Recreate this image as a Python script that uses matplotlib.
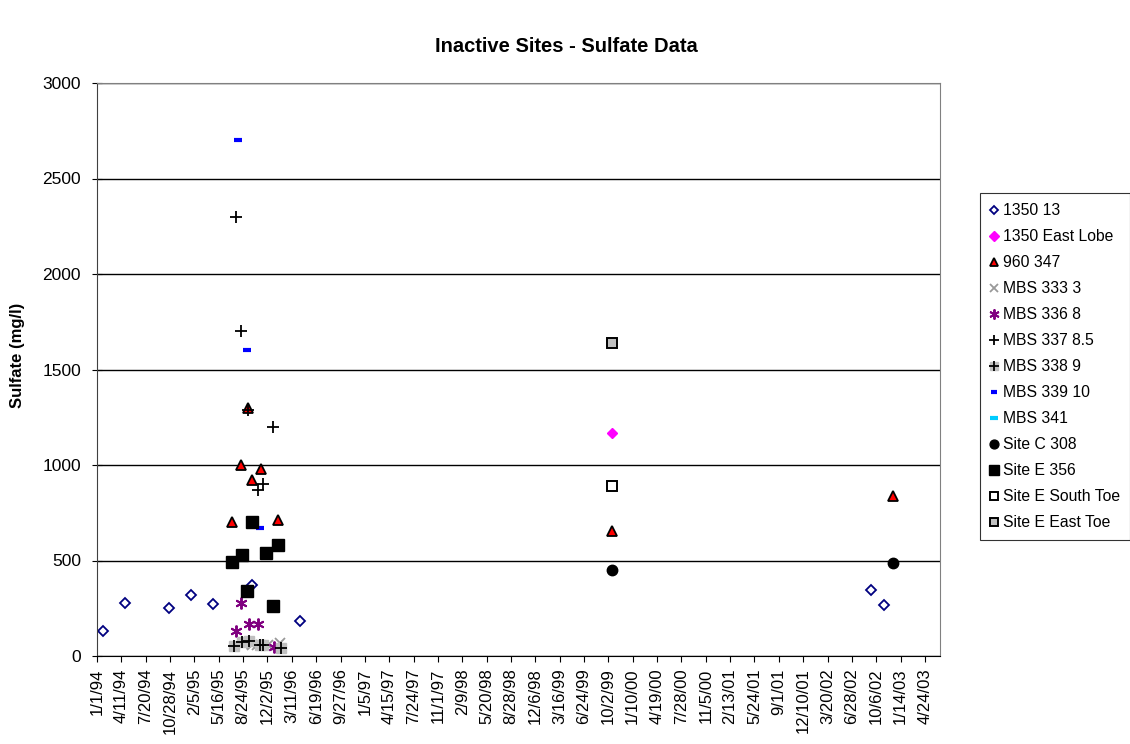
import datetime as dt
import numpy as np
import matplotlib
matplotlib.use('Agg')
import matplotlib.pyplot as plt
import matplotlib.dates as mdates
from matplotlib.ticker import FuncFormatter

plt.rcParams['font.family'] = ['Liberation Sans', 'DejaVu Sans']

# series data (date strings, sulfate mg/l)
s1350_13_dates = ['1994-01-24', '1994-04-25', '1994-10-22', '1995-01-23', '1995-04-24',
                  '1995-10-01', '1996-04-14', '2002-09-15', '2002-11-07']
s1350_13_vals = [130, 280, 250, 320, 270, 370, 185, 345, 265]

s1350_east_dates = ['1999-10-19']
s1350_east_vals = [1170]

s960_dates = ['1995-07-09', '1995-08-14', '1995-09-12', '1995-10-01', '1995-11-06',
              '1996-01-14', '1999-10-19', '2002-12-15']
s960_vals = [700, 1000, 1300, 920, 980, 710, 655, 840]

mbs333_dates = ['1995-08-22', '1995-09-28', '1995-10-20', '1995-12-05', '1996-01-24']
mbs333_vals = [65, 60, 55, 60, 70]

mbs336_dates = ['1995-07-26', '1995-08-14', '1995-09-17', '1995-10-23', '1995-12-27']
mbs336_vals = [130, 280, 170, 170, 45]

mbs337_dates = ['1995-07-26', '1995-08-14', '1995-09-14', '1995-10-23', '1995-11-15', '1995-12-25']
mbs337_vals = [2300, 1700, 1290, 870, 900, 1200]

mbs338_dates = ['1995-07-19', '1995-08-18', '1995-09-17', '1995-11-03', '1995-11-15', '1996-01-25']
mbs338_vals = [50, 75, 80, 58, 55, 43]

mbs339_dates = ['1995-08-04', '1995-09-08', '1995-11-03']
mbs339_vals = [2700, 1600, 670]

mbs341_dates = []
mbs341_vals = []

siteC_dates = ['1999-10-19', '2002-12-15']
siteC_vals = [450, 485]

siteE356_dates = ['1995-07-09', '1995-08-18', '1995-09-10', '1995-10-01', '1995-11-25',
                  '1995-12-25', '1996-01-14']
siteE356_vals = [490, 530, 340, 700, 540, 260, 580]

south_toe_dates = ['1999-10-19']
south_toe_vals = [890]

east_toe_dates = ['1999-10-19']
east_toe_vals = [1640]

start = dt.date(1994, 1, 1)
tick_dates = [start + dt.timedelta(days=100 * k) for k in range(35)]


def d(dates):
    return [mdates.date2num(dt.date.fromisoformat(s)) for s in dates]


fig = plt.figure(figsize=(11.3, 7.44), dpi=100)
ax = fig.add_axes([97 / 1130, 1 - 656 / 744, 843 / 1130, 573 / 744])

ax.plot(d(s1350_13_dates), s1350_13_vals, ls='none', marker='D', ms=5, mfc='white',
        mec='#000080', mew=1.3, label='1350 13')
ax.plot(d(s1350_east_dates), s1350_east_vals, ls='none', marker='D', ms=5.5, mfc='#FF00FF',
        mec='#FF00FF', label='1350 East Lobe')
ax.plot(d(s960_dates), s960_vals, ls='none', marker='^', ms=7.5, mfc='#FF0000',
        mec='black', mew=1.3, label='960 347')
ax.plot(d(mbs333_dates), mbs333_vals, ls='none', marker='x', ms=6.5, mec='#999999',
        mew=1.3, label='MBS 333 3')
ax.plot(d(mbs336_dates), mbs336_vals, ls='none', marker=(6, 2, 0), ms=8.5, mec='#800080',
        mew=1.4, label='MBS 336 8')
ax.plot(d(mbs337_dates), mbs337_vals, ls='none', marker='+', ms=8.5, mec='black',
        mew=1.3, label='MBS 337 8.5')
h338a, = ax.plot(d(mbs338_dates), mbs338_vals, ls='none', marker='s', ms=7.5, mfc='#C0C0C0',
                 mec='#C0C0C0')
h338b, = ax.plot(d(mbs338_dates), mbs338_vals, ls='none', marker='+', ms=8.5, mec='black',
                 mew=1.3)
ax.plot(d(mbs339_dates), mbs339_vals, ls='none', marker='_', ms=5.5, mec='#0000FF',
        mew=3, label='MBS 339 10')
ax.plot(d(mbs341_dates), mbs341_vals, ls='none', marker='_', ms=7, mec='#00CCFF',
        mew=3, label='MBS 341')
ax.plot(d(siteC_dates), siteC_vals, ls='none', marker='o', ms=7.5, mfc='black',
        mec='black', label='Site C 308')
ax.plot(d(siteE356_dates), siteE356_vals, ls='none', marker='s', ms=8.5, mfc='black',
        mec='black', label='Site E 356')
ax.plot(d(south_toe_dates), south_toe_vals, ls='none', marker='s', ms=7, mfc='white',
        mec='black', mew=1.4, label='Site E South Toe')
ax.plot(d(east_toe_dates), east_toe_vals, ls='none', marker='s', ms=7, mfc='#C0C0C0',
        mec='black', mew=1.4, label='Site E East Toe')

# axes
ax.set_xlim(mdates.date2num(start), mdates.date2num(start) + 3462)
ax.set_ylim(0, 3000)
ax.set_xticks([mdates.date2num(t) for t in tick_dates])
ax.xaxis.set_major_formatter(FuncFormatter(
    lambda v, p: (lambda t: f'{t.month}/{t.day}/{t.year % 100:02d}')(mdates.num2date(v))))
ax.set_yticks(np.arange(0, 3001, 500))
ax.tick_params(axis='x', rotation=90, labelsize=12, direction='out', length=4, color='black', pad=5)
ax.tick_params(axis='y', labelsize=12.5, direction='inout', length=7, color='black', pad=8)
for lab in ax.get_xticklabels():
    lab.set_verticalalignment('top')
ax.yaxis.grid(True, color='black', lw=1)
ax.set_axisbelow(True)
for side in ['top', 'right']:
    ax.spines[side].set_color('#808080')
ax.spines['left'].set_color('#404040')
ax.spines['bottom'].set_color('black')

fig.text(18 / 1130, 1 - 355 / 744, 'Sulfate (mg/l)', rotation=90, ha='center', va='center',
         fontsize=12, fontweight='bold')
fig.text(566 / 1130, 1 - 47 / 744, 'Inactive Sites - Sulfate Data', ha='center', va='center',
         fontsize=14.5, fontweight='bold')

handles, labels = ax.get_legend_handles_labels()
handles.insert(6, (h338a, h338b))
labels.insert(6, 'MBS 338 9')
leg = fig.legend(handles, labels, loc='upper left', bbox_to_anchor=(980 / 1130, 1 - 193 / 744),
                 frameon=True, fancybox=False, edgecolor='black', fontsize=11.3,
                 handlelength=0.5, handletextpad=0.3, labelspacing=0.7, borderpad=0.65,
                 markerscale=0.85, borderaxespad=0)
leg.get_frame().set_linewidth(0.8)

fig.savefig('out.png', dpi=100)
